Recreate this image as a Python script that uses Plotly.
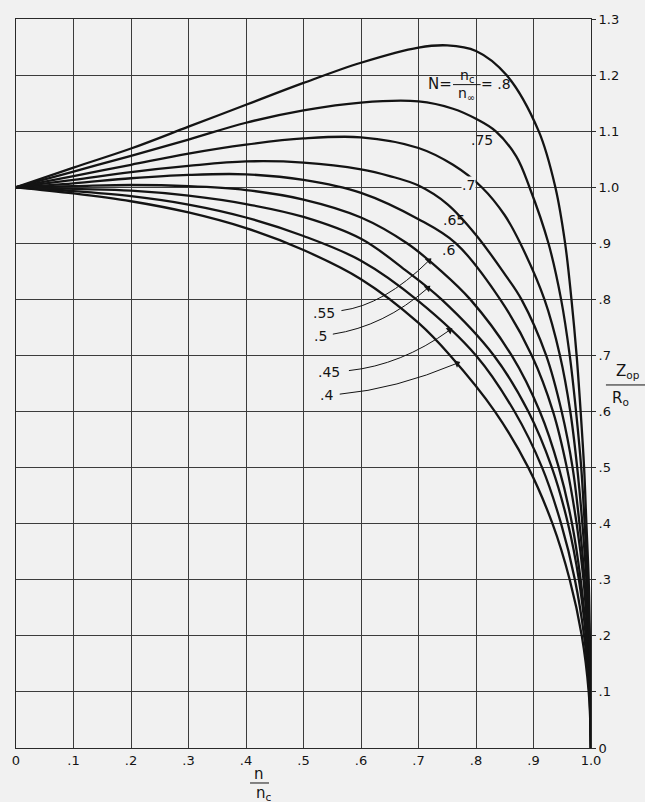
import math
import plotly.graph_objects as go

# n / n_c against Z_op / R_o, one curve per N = n_c / n_inf
x_040 = [0, 0.1, 0.2, 0.3, 0.4, 0.5, 0.6, 0.7, 0.755, 0.833, 0.891, 0.933, 0.963, 0.984, 0.996, 1.0]
z_040 = [1.0, 0.989, 0.975, 0.955, 0.927, 0.888, 0.836, 0.758, 0.7, 0.6, 0.5, 0.4, 0.3, 0.2, 0.1, 0.0]

x_045 = [0, 0.1, 0.2, 0.3, 0.4, 0.5, 0.6, 0.7, 0.8, 0.867, 0.915, 0.948, 0.972, 0.988, 0.997, 1.0]
z_045 = [1.0, 0.993, 0.984, 0.969, 0.946, 0.913, 0.869, 0.797, 0.7, 0.6, 0.5, 0.4, 0.3, 0.2, 0.1, 0.0]

x_050 = [0, 0.1, 0.2, 0.3, 0.4, 0.5, 0.6, 0.68, 0.74, 0.831, 0.891, 0.932, 0.96, 0.979, 0.991, 0.998, 1.0]
z_050 = [1.0, 0.997, 0.994, 0.985, 0.97, 0.947, 0.908, 0.85, 0.8, 0.7, 0.6, 0.5, 0.4, 0.3, 0.2, 0.1, 0.0]

x_055 = [0, 0.1, 0.2, 0.3, 0.4, 0.5, 0.6, 0.68, 0.74, 0.79, 0.862, 0.911, 0.944, 0.967, 0.982, 0.992, 0.998, 1.0]
z_055 = [1.0, 1.002, 1.004, 1.002, 0.995, 0.978, 0.946, 0.9, 0.85, 0.8, 0.7, 0.6, 0.5, 0.4, 0.3, 0.2, 0.1, 0.0]

x_060 = [0, 0.1, 0.2, 0.3, 0.4, 0.5, 0.6, 0.7, 0.765, 0.842, 0.897, 0.934, 0.958, 0.975, 0.987, 0.994, 0.999, 1.0]
z_060 = [1.0, 1.007, 1.016, 1.022, 1.023, 1.013, 0.99, 0.943, 0.9, 0.8, 0.7, 0.6, 0.5, 0.4, 0.3, 0.2, 0.1, 0.0]

x_065 = [0, 0.1, 0.2, 0.3, 0.4, 0.5, 0.6, 0.65, 0.7, 0.75, 0.8, 0.85, 0.879, 0.922, 0.949, 0.968, 0.98, 0.989, 0.995, 0.999, 1.0]
z_065 = [1.0, 1.013, 1.027, 1.038, 1.046, 1.044, 1.032, 1.02, 1.003, 0.97, 0.915, 0.845, 0.8, 0.7, 0.6, 0.5, 0.4, 0.3, 0.2, 0.1, 0.0]

x_070 = [0, 0.1, 0.2, 0.3, 0.4, 0.5, 0.6, 0.7, 0.76, 0.81, 0.85, 0.877, 0.919, 0.946, 0.964, 0.976, 0.985, 0.992, 0.996, 0.999, 1.0]
z_070 = [1.0, 1.02, 1.04, 1.06, 1.076, 1.087, 1.089, 1.07, 1.04, 1.0, 0.95, 0.9, 0.8, 0.7, 0.6, 0.5, 0.4, 0.3, 0.2, 0.1, 0.0]

x_075 = [0, 0.1, 0.2, 0.3, 0.4, 0.5, 0.6, 0.7, 0.76, 0.8, 0.834, 0.87, 0.893, 0.926, 0.948, 0.963, 0.974, 0.983, 0.989, 0.994, 0.997, 0.999, 1.0]
z_075 = [1.0, 1.028, 1.056, 1.085, 1.115, 1.137, 1.151, 1.153, 1.14, 1.122, 1.1, 1.055, 1.0, 0.9, 0.8, 0.7, 0.6, 0.5, 0.4, 0.3, 0.2, 0.1, 0.0]

x_080 = [0, 0.1, 0.2, 0.3, 0.4, 0.5, 0.6, 0.7, 0.75, 0.8, 0.853, 0.909, 0.938, 0.955, 0.966, 0.975, 0.982, 0.988, 0.992, 0.996, 0.998, 0.9995, 1.0]
z_080 = [1.0, 1.035, 1.069, 1.108, 1.147, 1.186, 1.222, 1.249, 1.253, 1.243, 1.2, 1.1, 1.0, 0.9, 0.8, 0.7, 0.6, 0.5, 0.4, 0.3, 0.2, 0.1, 0.0]

curves = [(x_040, z_040), (x_045, z_045), (x_050, z_050), (x_055, z_055),
          (x_060, z_060), (x_065, z_065), (x_070, z_070), (x_075, z_075),
          (x_080, z_080)]

x_ticks = [0, 0.1, 0.2, 0.3, 0.4, 0.5, 0.6, 0.7, 0.8, 0.9, 1.0]
x_tick_text = ["0", ".1", ".2", ".3", ".4", ".5", ".6", ".7", ".8", ".9", "1.0"]
y_ticks = [0, 0.1, 0.2, 0.3, 0.4, 0.5, 0.6, 0.7, 0.8, 0.9, 1.0, 1.1, 1.2, 1.3]
y_tick_text = ["0", ".1", ".2", ".3", ".4", ".5", ".6", ".7", ".8", ".9", "1.0", "1.1", "1.2", "1.3"]

# curve labels placed directly beside their lines
side_labels = [".75", ".7", ".65", ".6"]
side_x = [0.811, 0.787, 0.761, 0.752]
side_y = [1.085, 1.004, 0.941, 0.888]

# labels with curved leaders: text position, leader start, control point, tip on curve
lead_labels = [".55", ".5", ".45", ".4"]
lead_text_x = [0.536, 0.530, 0.545, 0.540]
lead_text_y = [0.775, 0.734, 0.670, 0.630]
lead_start_x = [0.566, 0.551, 0.579, 0.563]
lead_start_y = [0.780, 0.738, 0.673, 0.631]
lead_ctrl_x = [0.640, 0.640, 0.670, 0.660]
lead_ctrl_y = [0.790, 0.752, 0.683, 0.640]
lead_tip_x = [0.718, 0.716, 0.754, 0.767]
lead_tip_y = [0.869, 0.820, 0.745, 0.686]

BG = "#f1f1f1"
INK = "#141414"
FONT = "DejaVu Sans"
PX_X = 577.0   # pixels per unit of n/n_c
PX_Y = 564.0   # pixels per unit of Z_op/R_o

fig = go.Figure()
for xs, zs in curves:
    fig.add_trace(go.Scatter(x=xs, y=zs, mode="lines",
                             line=dict(color=INK, width=2.3, shape="spline", smoothing=1.0),
                             hoverinfo="skip", showlegend=False))

annotations = []
shapes = []

for t, lx, ly in zip(side_labels, side_x, side_y):
    annotations.append(dict(x=lx, y=ly, xref="x", yref="y", text=t, showarrow=False,
                            xanchor="center", yanchor="middle",
                            font=dict(family=FONT, size=14, color=INK),
                            bgcolor=BG if t == ".7" else None, borderpad=0))

# leader lines and their arrowheads
head_angles = []
for i, t in enumerate(lead_labels):
    annotations.append(dict(x=lead_text_x[i], y=lead_text_y[i], xref="x", yref="y", text=t,
                            showarrow=False, xanchor="center", yanchor="middle",
                            font=dict(family=FONT, size=14, color=INK)))
    shapes.append(dict(type="path", xref="x", yref="y",
                       path=f"M {lead_start_x[i]},{lead_start_y[i]} Q {lead_ctrl_x[i]},{lead_ctrl_y[i]} {lead_tip_x[i]},{lead_tip_y[i]}",
                       line=dict(color=INK, width=1)))
    dxp = (lead_tip_x[i] - lead_ctrl_x[i]) * PX_X
    dyp = -(lead_tip_y[i] - lead_ctrl_y[i]) * PX_Y
    head_angles.append(math.degrees(math.atan2(dxp, -dyp)))

fig.add_trace(go.Scatter(x=lead_tip_x, y=lead_tip_y, mode="markers",
                         marker=dict(symbol="triangle-up", size=7, color=INK, angle=head_angles),
                         hoverinfo="skip", showlegend=False))

# N = n_c / n_inf = .8
annotations += [
    dict(x=0.737, y=1.184, xref="x", yref="y", text="N=", showarrow=False,
         font=dict(family=FONT, size=15, color=INK)),
    dict(x=0.784, y=1.199, xref="x", yref="y", text="n<sub>c</sub>", showarrow=False,
         font=dict(family=FONT, size=14, color=INK)),
    dict(x=0.784, y=1.166, xref="x", yref="y", text="n<sub>\u221e</sub>", showarrow=False,
         font=dict(family=FONT, size=14, color=INK)),
    dict(x=0.834, y=1.184, xref="x", yref="y", text="= .8", showarrow=False,
         font=dict(family=FONT, size=14, color=INK)),
]
shapes.append(dict(type="line", xref="x", yref="y", x0=0.760, x1=0.808, y0=1.183, y1=1.183,
                   line=dict(color=INK, width=1)))

# axis titles as stacked fractions
annotations += [
    dict(x=0.423, y=-0.036, xref="paper", yref="paper", text="n", showarrow=False,
         xanchor="center", yanchor="middle", font=dict(family=FONT, size=15, color=INK)),
    dict(x=0.431, y=-0.063, xref="paper", yref="paper", text="n<sub>c</sub>", showarrow=False,
         xanchor="center", yanchor="middle", font=dict(family=FONT, size=15, color=INK)),
    dict(x=1.064, y=0.516, xref="paper", yref="paper", text="Z<sub>op</sub>", showarrow=False,
         xanchor="center", yanchor="middle", font=dict(family=FONT, size=15, color=INK)),
    dict(x=1.051, y=0.480, xref="paper", yref="paper", text="R<sub>o</sub>", showarrow=False,
         xanchor="center", yanchor="middle", font=dict(family=FONT, size=15, color=INK)),
]
shapes.append(dict(type="line", xref="paper", yref="paper", x0=0.407, x1=0.440,
                   y0=-0.048, y1=-0.048, line=dict(color=INK, width=1)))
shapes.append(dict(type="line", xref="paper", yref="paper", x0=1.026, x1=1.094,
                   y0=0.498, y1=0.498, line=dict(color=INK, width=1)))

fig.update_layout(
    width=645, height=802,
    margin=dict(l=14, r=54, t=15, b=54),
    paper_bgcolor=BG, plot_bgcolor=BG,
    annotations=annotations, shapes=shapes,
    font=dict(family=FONT, size=13, color=INK),
    xaxis=dict(range=[0, 1.0], tickvals=x_ticks, ticktext=x_tick_text,
               showgrid=True, gridcolor="#3c3c3c", gridwidth=1, zeroline=False,
               showline=True, linecolor="#2a2a2a", linewidth=1, mirror=True,
               ticks="", tickfont=dict(family=FONT, size=13, color=INK)),
    yaxis=dict(range=[0, 1.3], tickvals=y_ticks, ticktext=y_tick_text, side="right",
               showgrid=True, gridcolor="#3c3c3c", gridwidth=1, zeroline=False,
               showline=True, linecolor="#2a2a2a", linewidth=1, mirror=True,
               ticks="outside", ticklen=4, tickcolor="#2a2a2a",
               tickfont=dict(family=FONT, size=13, color=INK)),
)

fig.write_html("out.html")
